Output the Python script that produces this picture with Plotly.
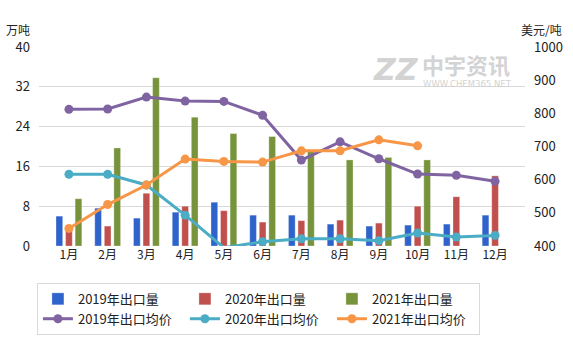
import plotly.graph_objects as go

months = ["1月", "2月", "3月", "4月", "5月", "6月", "7月", "8月", "9月", "10月", "11月", "12月"]
vol_2019 = [6.0, 7.6, 5.6, 6.8, 8.8, 6.2, 6.2, 4.4, 4.0, 4.2, 4.4, 6.2]
vol_2020 = [3.5, 4.0, 10.6, 8.0, 7.1, 4.8, 5.1, 5.2, 4.6, 8.0, 9.9, 14.1]
vol_2021 = [9.5, 19.7, 33.8, 25.9, 22.6, 22.0, 19.0, 17.3, 17.8, 17.3, None, None]
price_2019 = [812, 813, 849, 837, 836, 794, 659, 714, 663, 617, 613, 595]
price_2020 = [616, 616, 584, 493, 395, 413, 422, 422, 416, 439, 427, 432]
price_2021 = [453, 525, 584, 662, 655, 653, 687, 687, 720, 702, None, None]

FONT = "Noto Sans CJK SC"
WM = "rgba(205,205,205,0.9)"
fig = go.Figure()

bar_specs = [("2019年出口量", vol_2019, "#2F63CC"),
             ("2020年出口量", vol_2020, "#C0504D"),
             ("2021年出口量", vol_2021, "#77933C")]
for name, vals, col in bar_specs:
    fig.add_trace(go.Bar(x=months, y=vals, name=name,
                         marker=dict(color=col, line=dict(color="rgba(255,255,255,0.6)", width=0.5)),
                         yaxis="y"))

line_specs = [("2019年出口均价", price_2019, "#8064A2"),
              ("2020年出口均价", price_2020, "#4BACC6"),
              ("2021年出口均价", price_2021, "#F79646")]
for name, vals, col in line_specs:
    fig.add_trace(go.Scatter(x=months, y=vals, name=name, mode="lines+markers",
                             line=dict(color=col, width=3), marker=dict(color=col, size=9),
                             yaxis="y2", cliponaxis=False))

fig.update_layout(
    width=573, height=340,
    margin=dict(l=39, r=48, t=47, b=94, autoexpand=False),
    paper_bgcolor="white", plot_bgcolor="white",
    font=dict(family=FONT, size=12, color="#222"),
    barmode="group", bargap=0.26, bargroupgap=0.3,
    showlegend=True,
    legend=dict(orientation="h", xref="container", yref="container",
                x=0.451, xanchor="center", y=0.168, yanchor="top",
                bordercolor="#D9D9D9", borderwidth=1, font=dict(size=13, family=FONT),
                entrywidth=102, traceorder="normal", itemwidth=30),
    xaxis=dict(showgrid=False, showline=False, ticks="", tickfont=dict(size=12), fixedrange=True),
    yaxis=dict(range=[0, 40], dtick=8, showgrid=True, gridcolor="#D9D9D9", gridwidth=1,
               zeroline=False, showline=False, ticks="", tickfont=dict(size=13), ticklabelstandoff=8),
    yaxis2=dict(range=[400, 1000], dtick=100, overlaying="y", side="right", showgrid=False,
                zeroline=False, showline=False, ticks="", tickfont=dict(size=13), ticklabelstandoff=8),
    annotations=[
        dict(text="万吨", xref="paper", yref="paper", x=-0.072, y=1.035, xanchor="left", yanchor="bottom",
             showarrow=False, font=dict(size=12, family=FONT)),
        dict(text="美元/吨", xref="paper", yref="paper", x=1.08, y=1.035, xanchor="right", yanchor="bottom",
             showarrow=False, font=dict(size=12, family=FONT)),
        dict(text="<b><i>ZZ</i></b>", xref="paper", yref="paper", x=0.684, y=0.885, xanchor="left", yanchor="middle",
             showarrow=False, font=dict(size=30, family="DejaVu Sans", color=WM)),
        dict(text="<b>中宇资讯</b>", xref="paper", yref="paper", x=0.784, y=0.915, xanchor="left", yanchor="middle",
             showarrow=False, font=dict(size=22, family=FONT, color=WM)),
        dict(text="WWW.CHEM365.NET", xref="paper", yref="paper", x=0.786, y=0.815, xanchor="left", yanchor="middle",
             showarrow=False, font=dict(size=8.5, family="DejaVu Sans", color=WM)),
    ],
)

fig.write_html("out.html")
